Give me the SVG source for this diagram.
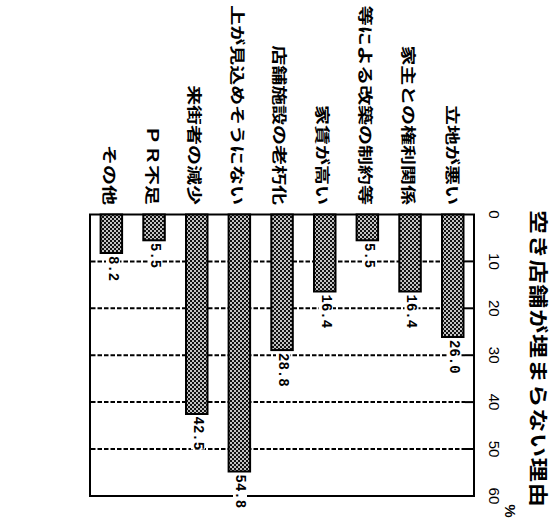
<svg xmlns="http://www.w3.org/2000/svg" width="555" height="518" viewBox="0 0 555 518">
<style>
.cat{font-family:"Noto Sans CJK JP","Noto Sans CJK SC",sans-serif;font-size:20px;font-weight:700;fill:#000}
.title{font-family:"Noto Sans CJK JP","Noto Sans CJK SC",sans-serif;font-size:24px;font-weight:700;fill:#000}
.ax{font-family:"Liberation Sans",Arial,sans-serif;font-size:15px;fill:#000}
.val{font-family:"Liberation Mono","Courier New",monospace;font-size:14px;font-weight:700;fill:#000}
.grid{stroke:#000;stroke-width:2;stroke-dasharray:4.5 2;fill:none}
.tick{stroke:#000;stroke-width:2;fill:none}
.bar{fill:url(#dots);stroke:#000;stroke-width:2}
.bg{fill:#fff}
</style>
<defs>
<pattern id="dots" width="4" height="4" patternUnits="userSpaceOnUse">
<rect width="4" height="4" fill="#111"/>
<circle cx="1" cy="1" r="1" fill="#fff"/>
<circle cx="3" cy="3" r="1" fill="#fff"/>
</pattern>
</defs>
<rect width="555" height="518" fill="#fff"/>

<text class="title" transform="translate(539,210) rotate(90) scale(1,0.8)" dominant-baseline="central" letter-spacing="0.8">空き店舗が埋まらない理由</text>
<text class="ax" transform="translate(510,511) rotate(90)" text-anchor="middle" dominant-baseline="central" font-size="9" font-weight="700">%</text>

<g id="axis">
<g class="ax" text-anchor="middle" dominant-baseline="central">
<text transform="translate(494,214.5) rotate(90)">0</text>
<text transform="translate(494,261.4) rotate(90)">10</text>
<text transform="translate(494,308.3) rotate(90)">20</text>
<text transform="translate(494,355.2) rotate(90)">30</text>
<text transform="translate(494,402.1) rotate(90)">40</text>
<text transform="translate(494,449) rotate(90)">50</text>
<text transform="translate(494,495.9) rotate(90)">60</text>
</g>
</g>

<g id="connectors">
<line class="grid" x1="91" y1="261.4" x2="465" y2="261.4"/>
<line class="grid" x1="91" y1="308.3" x2="465" y2="308.3"/>
<line class="grid" x1="91" y1="355.2" x2="465" y2="355.2"/>
<line class="grid" x1="91" y1="402.1" x2="465" y2="402.1"/>
<line class="grid" x1="91" y1="449" x2="465" y2="449"/>
<line class="tick" x1="465" y1="261.4" x2="474" y2="261.4"/>
<line class="tick" x1="465" y1="308.3" x2="474" y2="308.3"/>
<line class="tick" x1="465" y1="355.2" x2="474" y2="355.2"/>
<line class="tick" x1="465" y1="402.1" x2="474" y2="402.1"/>
<line class="tick" x1="465" y1="449" x2="474" y2="449"/>
<rect x="90" y="214.5" width="384" height="281.5" fill="none" stroke="#000" stroke-width="2"/>
</g>

<g id="n1">
<text class="cat" transform="translate(453,205) rotate(90) scale(1,0.75)" text-anchor="end" dominant-baseline="central">立地が悪い</text>
<rect class="bar" x="442" y="214.5" width="21.5" height="122.5"/>
<rect class="bg" x="447" y="339" width="14" height="34"/>
<text class="val" transform="translate(454,340) rotate(90) scale(1,1.1)" dominant-baseline="central">26.0</text>
</g>
<g id="n2">
<text class="cat" transform="translate(409.5,205) rotate(90) scale(1,0.75)" text-anchor="end" dominant-baseline="central">家主との権利関係</text>
<rect class="bar" x="399.3" y="214.5" width="21.5" height="77"/>
<rect class="bg" x="404.5" y="293.5" width="14" height="34"/>
<text class="val" transform="translate(411.5,294.5) rotate(90) scale(1,1.1)" dominant-baseline="central">16.4</text>
</g>
<g id="n3">
<text class="cat" transform="translate(366,205) rotate(90) scale(1,0.75)" text-anchor="end" dominant-baseline="central">等による改築の制約等</text>
<rect class="bar" x="356.6" y="214.5" width="21.5" height="25.8"/>
<rect class="bg" x="362" y="242" width="14" height="26"/>
<text class="val" transform="translate(369,243) rotate(90) scale(1,1.1)" dominant-baseline="central">5.5</text>
</g>
<g id="n4">
<text class="cat" transform="translate(323,205) rotate(90) scale(1,0.75)" text-anchor="end" dominant-baseline="central">家賃が高い</text>
<rect class="bar" x="314" y="214.5" width="21.5" height="77"/>
<rect class="bg" x="319" y="293.5" width="14" height="34"/>
<text class="val" transform="translate(326,294.5) rotate(90) scale(1,1.1)" dominant-baseline="central">16.4</text>
</g>
<g id="n5">
<text class="cat" transform="translate(280.5,205) rotate(90) scale(1,0.75)" text-anchor="end" dominant-baseline="central">店舗施設の老朽化</text>
<rect class="bar" x="271.3" y="214.5" width="21.5" height="135.6"/>
<rect class="bg" x="276" y="352" width="14" height="34"/>
<text class="val" transform="translate(283,353) rotate(90) scale(1,1.1)" dominant-baseline="central">28.8</text>
</g>
<g id="n6">
<text class="cat" transform="translate(238,205) rotate(90) scale(1,0.75)" text-anchor="end" dominant-baseline="central">上が見込めそうにない</text>
<rect class="bar" x="228.6" y="214.5" width="21.5" height="257"/>
<rect class="bg" x="233" y="473.5" width="14" height="34"/>
<text class="val" transform="translate(240,474.5) rotate(90) scale(1,1.1)" dominant-baseline="central">54.8</text>
</g>
<g id="n7">
<text class="cat" transform="translate(195,205) rotate(90) scale(1,0.75)" text-anchor="end" dominant-baseline="central">来街者の減少</text>
<rect class="bar" x="186" y="214.5" width="21.5" height="199.5"/>
<rect class="bg" x="191" y="415.5" width="14" height="34"/>
<text class="val" transform="translate(198,416.5) rotate(90) scale(1,1.1)" dominant-baseline="central">42.5</text>
</g>
<g id="n8">
<text class="cat" transform="translate(153,205) rotate(90) scale(1,0.75)" text-anchor="end" dominant-baseline="central">ＰＲ不足</text>
<rect class="bar" x="143.3" y="214.5" width="21.5" height="25.8"/>
<rect class="bg" x="148" y="242" width="14" height="26"/>
<text class="val" transform="translate(155,243) rotate(90) scale(1,1.1)" dominant-baseline="central">5.5</text>
</g>
<g id="n9">
<text class="cat" transform="translate(110.5,205) rotate(90) scale(1,0.75)" text-anchor="end" dominant-baseline="central">その他</text>
<rect class="bar" x="100.6" y="214.5" width="21.5" height="38.5"/>
<rect class="bg" x="106" y="255" width="14" height="26"/>
<text class="val" transform="translate(113,256) rotate(90) scale(1,1.1)" dominant-baseline="central">8.2</text>
</g>
</svg>
